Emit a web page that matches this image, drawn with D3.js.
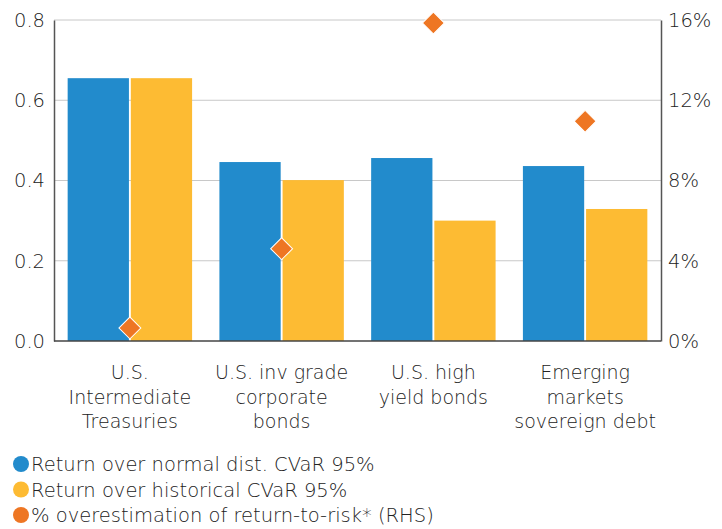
<!DOCTYPE html>
<html>
<head>
<meta charset="utf-8">
<script src="https://cdn.jsdelivr.net/npm/d3@7"></script>
<style>
  body { margin: 0; background: #fff; }
  text { font-family: "DejaVu Sans", sans-serif; font-weight: 300; fill: #222; }
</style>
</head>
<body>
<div id="chart"></div>
<script>
// data
const categories = [
  ["U.S.", "Intermediate", "Treasuries"],
  ["U.S. inv grade", "corporate", "bonds"],
  ["U.S. high", "yield bonds"],
  ["Emerging", "markets", "sovereign debt"]
]
const normalCVaR = [0.655, 0.446, 0.456, 0.436]
const historicalCVaR = [0.655, 0.401, 0.300, 0.329]
const overestimation = [0.65, 4.6, 15.85, 10.95]
const leftTicks = [0, 0.2, 0.4, 0.6, 0.8]
const rightTicks = [0, 4, 8, 12, 16]
const legendLabels = [
  "Return over normal dist. CVaR 95%",
  "Return over historical CVaR 95%",
  "% overestimation of return-to-risk* (RHS)"
]

const colors = ["#228bcc", "#fdbb33", "#ee7623"]

var svg = d3.select("#chart").append("svg")
    .attr("width", 722)
    .attr("height", 529)

const plotLeft = 54, plotRight = 661, plotTop = 20, plotBottom = 341

const x = d3.scaleBand()
    .domain(d3.range(categories.length))
    .range([plotLeft, plotRight])
    .paddingInner(0.18)
    .paddingOuter(0.09)

const xSub = d3.scaleBand()
    .domain([0, 1])
    .range([0, x.bandwidth()])
    .paddingInner(0.03)

const y = d3.scaleLinear().domain([0, 0.8]).range([plotBottom, plotTop])
const y2 = d3.scaleLinear().domain([0, 16]).range([plotBottom, plotTop])

// gridlines
svg.append("g")
  .selectAll("line")
  .data(leftTicks.slice(1))
  .enter().append("line")
    .attr("x1", plotLeft).attr("x2", plotRight)
    .attr("y1", d => y(d)).attr("y2", d => y(d))
    .attr("stroke", "#c8c8c8")
    .attr("stroke-width", 1)

// bars
const groups = svg.append("g")
  .selectAll("g")
  .data(categories.map((c, i) => i))
  .enter().append("g")
    .attr("transform", i => `translate(${x(i)},0)`)

groups.selectAll("rect")
  .data(i => [normalCVaR[i], historicalCVaR[i]])
  .enter().append("rect")
    .attr("x", (d, j) => xSub(j))
    .attr("width", xSub.bandwidth())
    .attr("y", d => y(d))
    .attr("height", d => plotBottom - y(d))
    .attr("fill", (d, j) => colors[j])

// axes
const leftAxis = svg.append("g")
    .attr("transform", `translate(${plotLeft},0)`)
    .call(d3.axisLeft(y).tickValues(leftTicks).tickFormat(d3.format(".1f")).tickSize(0).tickPadding(9))
leftAxis.select(".domain").attr("stroke", "#555").attr("stroke-width", 1.5)
leftAxis.selectAll("text").style("font-size", "19.5px").style("font-family", null).attr("fill", null)

const rightAxis = svg.append("g")
    .attr("transform", `translate(${plotRight},0)`)
    .call(d3.axisRight(y2).tickValues(rightTicks).tickFormat(d => d + "%").tickSize(0).tickPadding(7))
rightAxis.select(".domain").attr("stroke", "#555").attr("stroke-width", 1.5)
rightAxis.selectAll("text").style("font-size", "19.5px").attr("fill", null)
svg.selectAll(".tick text").attr("font-family", null).attr("font-size", null)

svg.append("line")
    .attr("x1", plotLeft).attr("x2", plotRight)
    .attr("y1", plotBottom).attr("y2", plotBottom)
    .attr("stroke", "#444").attr("stroke-width", 1.5)

// diamonds (RHS)
const diamond = d3.symbol().type(d3.symbolSquare).size(240)
svg.append("g")
  .selectAll("path")
  .data(overestimation)
  .enter().append("path")
    .attr("d", diamond)
    .attr("transform", (d, i) => `translate(${x(i) + x.bandwidth() / 2},${y2(d)}) rotate(45)`)
    .attr("fill", colors[2])
    .attr("stroke", "#fff")
    .attr("stroke-width", 1)

// category labels
const lab = svg.append("g")
  .selectAll("text")
  .data(categories)
  .enter().append("text")
    .attr("x", (d, i) => x(i) + x.bandwidth() / 2)
    .attr("y", 379)
    .attr("text-anchor", "middle")
    .style("font-size", "19px")
lab.selectAll("tspan")
  .data(d => d)
  .enter().append("tspan")
    .attr("x", function() { return this.parentNode.getAttribute("x") })
    .attr("dy", (d, i) => i === 0 ? 0 : 24.5)
    .text(d => d)

// legend
const legend = svg.append("g")
  .selectAll("g")
  .data(legendLabels)
  .enter().append("g")
    .attr("transform", (d, i) => `translate(0,${464 + i * 25.5})`)
legend.append("circle")
    .attr("cx", 21).attr("cy", 0).attr("r", 8)
    .attr("fill", (d, i) => colors[i])
legend.append("text")
    .attr("x", 31).attr("y", 7)
    .style("font-size", "19.5px")
    .text(d => d)
</script>
</body>
</html>
